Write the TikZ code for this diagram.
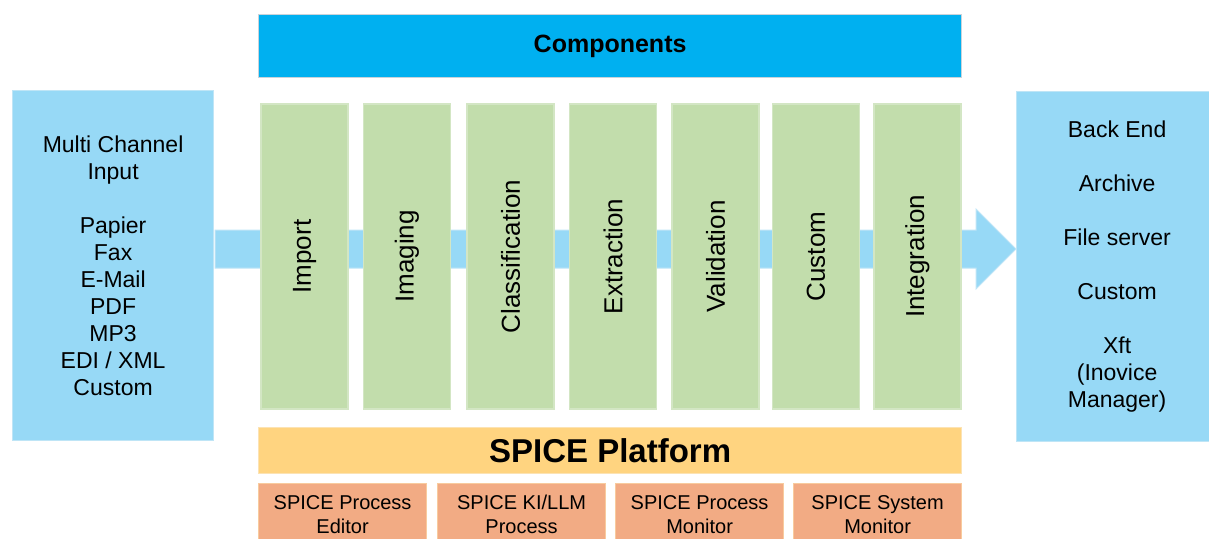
\documentclass[tikz,border=0pt]{standalone}
\usepackage{fontspec}
\setmainfont{Liberation Sans}
\usetikzlibrary{calc}
\definecolor{lblue}{HTML}{97D9F6}
\definecolor{lblueborder}{HTML}{BFE5F6}
\definecolor{compblue}{HTML}{00B0F0}
\definecolor{compborder}{HTML}{C9D3DA}
\definecolor{colgreen}{HTML}{C2DDAC}
\definecolor{greenborder}{HTML}{D3E6C4}
\definecolor{platgold}{HTML}{FFD480}
\definecolor{goldborder}{HTML}{FCE3B4}
\definecolor{modorange}{HTML}{F2AB84}
\definecolor{orangeborder}{HTML}{F8CB9E}
\begin{document}
\begin{tikzpicture}[x=1pt,y=-1pt,
  box/.style={rectangle, inner sep=0pt, anchor=north west, align=center, line width=1.2pt},
  sidebox/.style={box, fill=lblue, draw=lblueborder, minimum width=201pt, minimum height=350pt, font=\fontsize{23}{27}\selectfont},
  colbox/.style={rectangle, inner sep=0pt, rotate=90, fill=colgreen, draw=greenborder, line width=1.2pt, minimum width=305pt, minimum height=87pt, font=\fontsize{26}{30}\selectfont},
  modbox/.style={box, fill=modorange, draw=orangeborder, minimum width=168pt, minimum height=62pt, font=\fontsize{20}{24}\selectfont},
  flow/.style={fill=lblue, draw=lblueborder, line width=1pt}
]
\useasboundingbox (0,0) rectangle (1209,538);
\clip (0,0) rectangle (1209,538);

% input / output
\node[sidebox] (in) at (12,90) {Multi Channel\\Input\\[27pt]Papier\\Fax\\E-Mail\\PDF\\MP3\\EDI / XML\\Custom};
\node[sidebox] (out) at (1016,91) {Back End\\[27pt]Archive\\[27pt]File server\\[27pt]Custom\\[27pt]Xft\\(Inovice\\Manager)};

% flow arrow
\coordinate (fs) at (215,249);
\coordinate (ft) at (1016,249);
\draw[flow] ($(fs)+(0,-19)$) -- (976,230) -- (976,209) -- (ft) -- (976,289) -- (976,268) -- ($(fs)+(0,19)$) -- cycle;

% components header
\node[box, fill=compblue, draw=compborder, minimum width=703pt, minimum height=63pt, font=\fontsize{25}{30}\selectfont\bfseries] (comp) at (258,14) {Components};

% component columns
\node[colbox] (c1) at (304.5,256.5) {Import};
\node[colbox] (c2) at (407,256.5) {Imaging};
\node[colbox] (c3) at (510.5,256.5) {Classification};
\node[colbox] (c4) at (613,256.5) {Extraction};
\node[colbox] (c5) at (715.5,256.5) {Validation};
\node[colbox] (c6) at (816,256.5) {Custom};
\node[colbox] (c7) at (917.5,256.5) {Integration};

% platform
\node[box, fill=platgold, draw=goldborder, minimum width=703pt, minimum height=46pt, font=\fontsize{33}{38}\selectfont\bfseries] (plat) at (258,427) {SPICE Platform};

\node[modbox] (m1) at (258,483) {SPICE Process\\Editor};
\node[modbox] (m2) at (437,483) {SPICE KI/LLM\\Process};
\node[modbox] (m3) at (615,483) {SPICE Process\\Monitor};
\node[modbox] (m4) at (793,483) {SPICE System\\Monitor};
\end{tikzpicture}
\end{document}
